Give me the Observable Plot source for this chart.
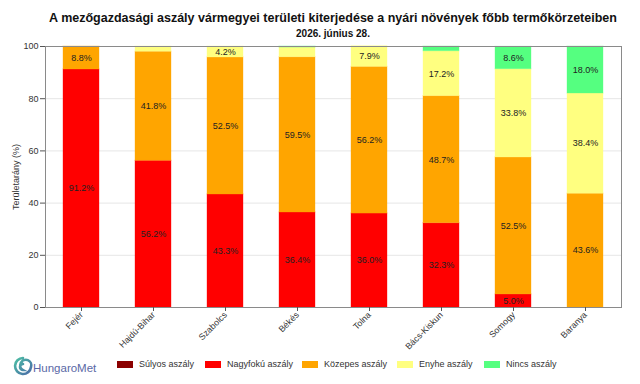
<!DOCTYPE html>
<html>
<head>
<meta charset="utf-8">
<script src="https://cdn.jsdelivr.net/npm/d3@7"></script>
<script src="https://cdn.jsdelivr.net/npm/@observablehq/plot@0.6"></script>
<style>
  html, body { margin: 0; padding: 0; background: #fff; }
  #wrap { position: relative; width: 640px; height: 384px; font-family: "Liberation Sans", Arial, sans-serif; overflow: hidden; }
  #chart { position: absolute; left: 0; top: 0; }
  .title { position: absolute; left: 45px; width: 576px; text-align: center; font-weight: bold; color: #111; white-space: nowrap; }
  #t1 { top: 11px; font-size: 12.5px; }
  #t2 { top: 28px; font-size: 10px; }
  #legend { position: absolute; top: 359px; left: 0; font-size: 9px; color: #333; }
  .li { position: absolute; white-space: nowrap; display: flex; align-items: center; }
  .sw { display: inline-block; width: 16px; height: 7px; margin-right: 6px; }
  #logo { position: absolute; left: 12px; top: 354px; }
</style>
</head>
<body>
<div id="wrap">
  <div id="chart"></div>
  <div class="title" id="t1">A mezőgazdasági aszály vármegyei területi kiterjedése a nyári növények főbb termőkörzeteiben</div>
  <div class="title" id="t2">2026. június 28.</div>
  <div id="legend"></div>
  <svg id="logo" width="90" height="26" viewBox="0 0 90 26">
    <defs>
      <linearGradient id="lg" x1="0" y1="0" x2="1" y2="1">
        <stop offset="0" stop-color="#4cc0a4"/>
        <stop offset="1" stop-color="#4a6aa8"/>
      </linearGradient>
    </defs>
    <path d="M11 4 A8 8 0 1 0 19 13 A5.5 5.5 0 1 0 11 16 A3 3 0 0 1 11 10" fill="none" stroke="url(#lg)" stroke-width="2.6" stroke-linecap="round"/>
    <text x="21" y="18" font-family="Liberation Sans, Arial, sans-serif" font-size="11.5" fill="#5a68a6">HungaroMet</text>
  </svg>
</div>
<script>
// Counties (x categories)
const categories = ["Fejér", "Hajdú-Bihar", "Szabolcs", "Békés", "Tolna", "Bács-Kiskun", "Somogy", "Baranya"];

// Drought classes, bottom to top of each stack
const classes = ["Súlyos aszály", "Nagyfokú aszály", "Közepes aszály", "Enyhe aszály", "Nincs aszály"];
const classColors = ["#8b0000", "#ff0000", "#ffa500", "#ffff80", "#55ff80"];

// Share of area (%) per class, one value per county
const sulyos   = [0, 0, 0, 0, 0, 0, 0, 0];
const nagyfoku = [91.2, 56.2, 43.3, 36.4, 36.0, 32.3, 5.0, 0];
const kozepes  = [8.8, 41.8, 52.5, 59.5, 56.2, 48.7, 52.5, 43.6];
const enyhe    = [0, 2.0, 4.2, 3.7, 7.9, 17.2, 33.8, 38.4];
const nincs    = [0, 0, 0, 0.4, 0, 1.8, 8.6, 18.0];

const yTicks = [0, 20, 40, 60, 80, 100];

const series = [sulyos, nagyfoku, kozepes, enyhe, nincs];
const rows = [];
categories.forEach((c, i) => {
  series.forEach((s, k) => rows.push({county: c, cls: classes[k], value: s[i]}));
});

const chart = Plot.plot({
  width: 640,
  height: 384,
  marginLeft: 45,
  marginRight: 19,
  marginTop: 46,
  marginBottom: 77,
  style: {fontFamily: "Liberation Sans, Arial, sans-serif", fontSize: "9px", color: "#333", background: "transparent"},
  x: {domain: categories, paddingInner: 0.5, paddingOuter: 0.25, label: null},
  y: {domain: [0, 100], label: null},
  color: {domain: classes, range: classColors},
  marks: [
    Plot.gridY(yTicks, {stroke: "#e6e6e6", strokeOpacity: 1}),
    Plot.barY(rows, Plot.stackY({
      x: "county", y: "value", fill: "cls", z: "cls", order: classes,
      stroke: "cls", strokeOpacity: 0.35, strokeWidth: 1
    })),
    Plot.textY(rows, Plot.stackY({
      x: "county", y: "value", z: "cls", order: classes,
      text: d => d.value >= 4 ? d.value.toFixed(1) + "%" : "",
      fill: "#222", fontSize: 9
    })),
    Plot.frame({stroke: "#8a8a8a", strokeWidth: 1}),
    Plot.axisY(yTicks, {tickSize: 5, tickPadding: 2, stroke: "#555", fontSize: 9,
      label: "Területarány (%)", labelAnchor: "center", labelArrow: "none", labelOffset: 33}),
    Plot.axisX({tickSize: 4, tickPadding: 2, tickRotate: -45, stroke: "#555", fontSize: 8.8, label: null})
  ]
});
document.getElementById("chart").appendChild(chart);

// Legend row below the chart
const legendX = [117, 205, 302, 397, 484];
const legend = document.getElementById("legend");
classes.forEach((c, k) => {
  const item = document.createElement("div");
  item.className = "li";
  item.style.left = legendX[k] + "px";
  const sw = document.createElement("span");
  sw.className = "sw";
  sw.style.background = classColors[k];
  item.appendChild(sw);
  item.appendChild(document.createTextNode(c));
  legend.appendChild(item);
});
</script>
</body>
</html>
